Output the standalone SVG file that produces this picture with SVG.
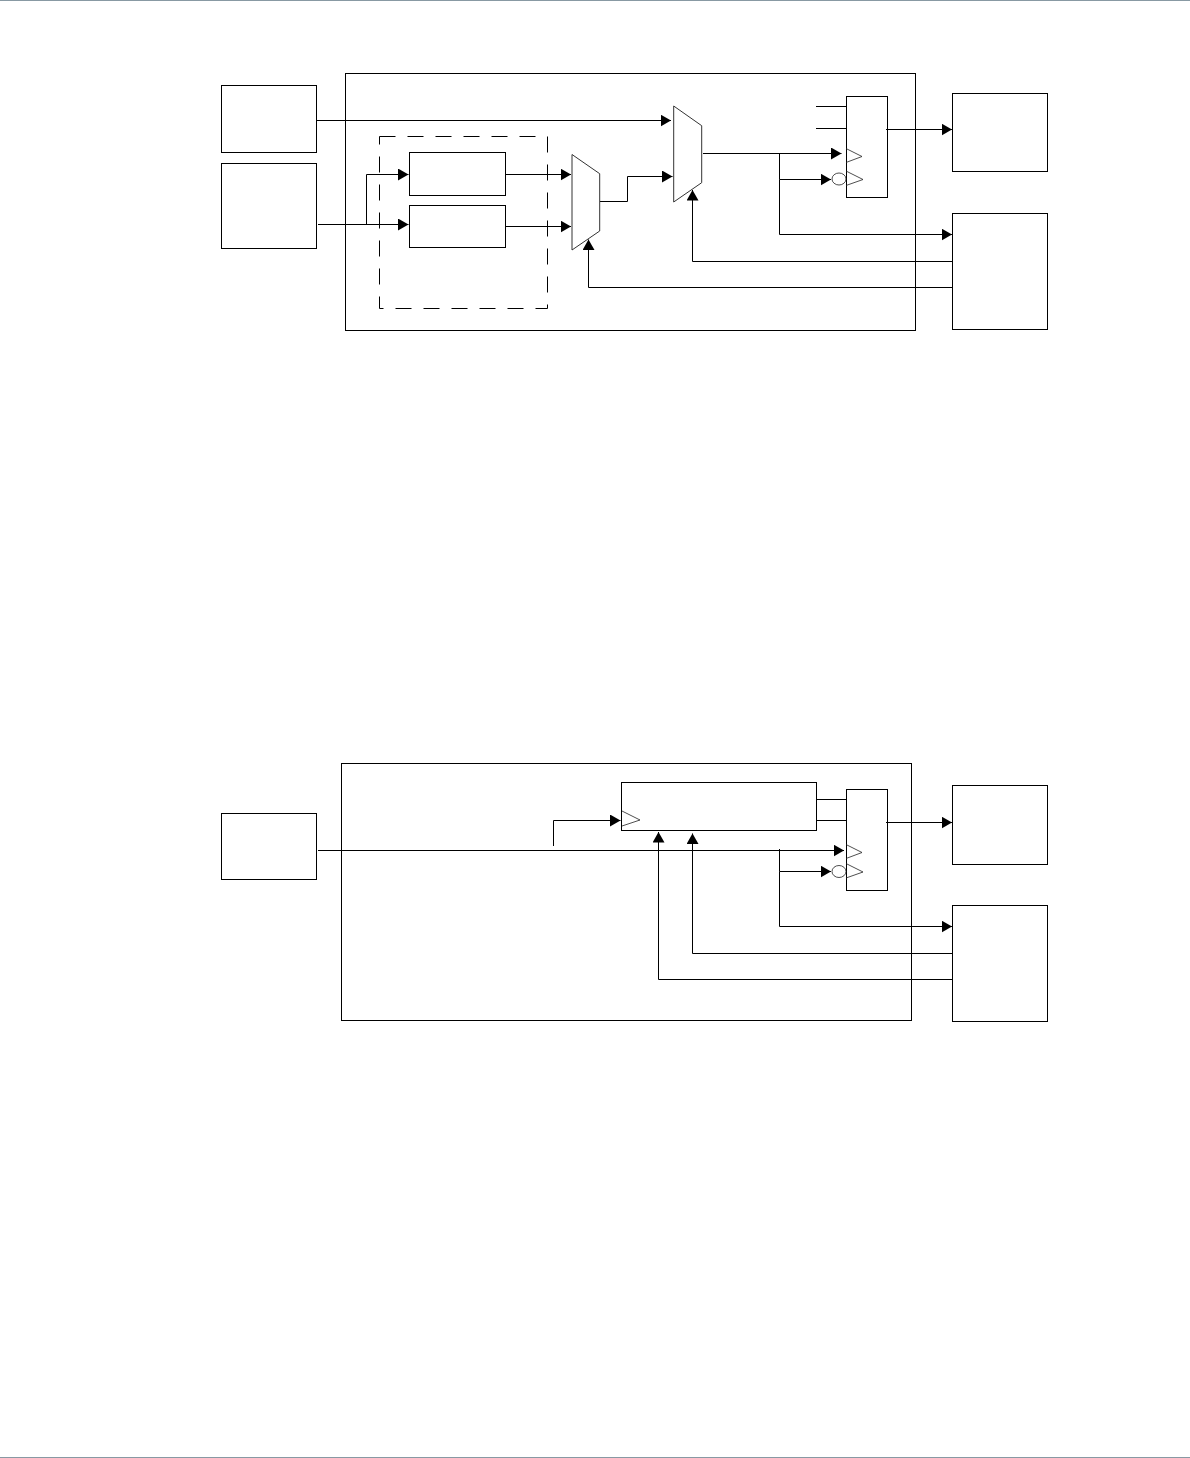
<svg xmlns="http://www.w3.org/2000/svg" width="1190" height="1458" viewBox="0 0 1190 1458">
<style>
.b{fill:none;stroke:#000;stroke-width:1}
.c{fill:none;stroke:#000;stroke-width:1;marker-end:url(#a)}
.l{fill:none;stroke:#000;stroke-width:1}
.d{fill:none;stroke:#000;stroke-width:1;stroke-dasharray:16 12}
.t{fill:none;stroke:#222;stroke-width:.8}
.m{fill:#fff;stroke:#333;stroke-width:1}
</style>
<defs>
<marker id="a" markerUnits="userSpaceOnUse" markerWidth="11" markerHeight="12" refX="10.5" refY="6" orient="auto"><path d="M0 0L10.5 6L0 12Z" fill="#000"/></marker>
</defs>
<rect x="0" y="0" width="1190" height="1" fill="#8899a3"/>
<rect x="0" y="1457" width="1190" height="1" fill="#8899a3"/>
<g id="fig1-frame"><rect class="b" x="345.5" y="73.5" width="570" height="257"/></g>
<g id="fig1-dashed"><rect class="d" x="379.5" y="136.5" width="168" height="172"/></g>
<g id="fig2-frame"><rect class="b" x="341.5" y="763.5" width="570" height="257"/></g>
<g id="connectors">
<path class="c" d="M316.5 120.5H671"/>
<path class="c" d="M318 224.5H408.500"/>
<path class="c" d="M366.500 224.500V174.500H408.500"/>
<path class="c" d="M505.500 174.500H571"/>
<path class="c" d="M505.500 226.500H571"/>
<path class="c" d="M600 201.500H627.500V176.500H672.500"/>
<path class="c" d="M703 153.500H841.500"/>
<path class="c" d="M779.500 153.500V179.500H831"/>
<path class="c" d="M779.500 179.500V234.500H952"/>
<path class="c" d="M886 129.500H952"/>
<path class="c" d="M952.500 261.500H692.500V190"/>
<path class="c" d="M952.500 287.500H588.500V239.500"/>
<path class="l" d="M816 106.500H846.500M816 128.500H846.500"/>
<path class="c" d="M318 850.500H844"/>
<path class="c" d="M553.500 846V820.500H620.500"/>
<path class="c" d="M779.500 849V871.500H831"/>
<path class="c" d="M779.500 871.500V926.500H952"/>
<path class="c" d="M886 822.500H952"/>
<path class="c" d="M952.500 953.500H692.500V833.500"/>
<path class="c" d="M952.500 979.500H658.500V832"/>
<path class="l" d="M816.500 799.500H846.500M816.500 820.500H846.500"/>
</g>
<g id="fig1-src-a"><rect class="b" x="221.500" y="85.500" width="95" height="67"/></g>
<g id="fig1-src-b"><rect class="b" x="221.500" y="163.500" width="95" height="85"/></g>
<g id="fig1-block-1"><rect class="b" x="409.500" y="152.500" width="96" height="43"/></g>
<g id="fig1-block-2"><rect class="b" x="409.500" y="205.500" width="96" height="42"/></g>
<g id="fig1-mux-1"><path class="m" d="M572 154.500L599.700 173.700V231L572 250Z"/></g>
<g id="fig1-mux-2"><path class="m" d="M673.700 106L701.700 125.700V182.700L673.700 202Z"/></g>
<g id="fig1-reg">
<rect class="b" x="846.500" y="96.500" width="41" height="101"/>
<path class="t" d="M846 148.500L862 156.500L846 162.500"/>
<path class="t" d="M846 171L863 179.500L846 185.500"/>
<ellipse class="t" cx="839" cy="179" rx="7" ry="6"/>
</g>
<g id="fig1-dst-a"><rect class="b" x="952.500" y="93.500" width="95" height="78"/></g>
<g id="fig1-dst-b"><rect class="b" x="952.500" y="213.500" width="95" height="116"/></g>
<g id="fig2-src"><rect class="b" x="221.500" y="813.500" width="95" height="66"/></g>
<g id="fig2-block">
<rect class="b" x="621.500" y="782.500" width="195" height="48"/>
<path class="t" d="M622 811L640 820L622 826"/>
</g>
<g id="fig2-reg">
<rect class="b" x="846.500" y="789.500" width="41" height="101"/>
<path class="t" d="M846 844.500L862 852.500L846 858.500"/>
<path class="t" d="M846 863.500L863 872L846 878"/>
<ellipse class="t" cx="839" cy="871.500" rx="7" ry="6"/>
</g>
<g id="fig2-dst-a"><rect class="b" x="952.500" y="785.500" width="95" height="79"/></g>
<g id="fig2-dst-b"><rect class="b" x="952.500" y="905.500" width="95" height="116"/></g>
</svg>
